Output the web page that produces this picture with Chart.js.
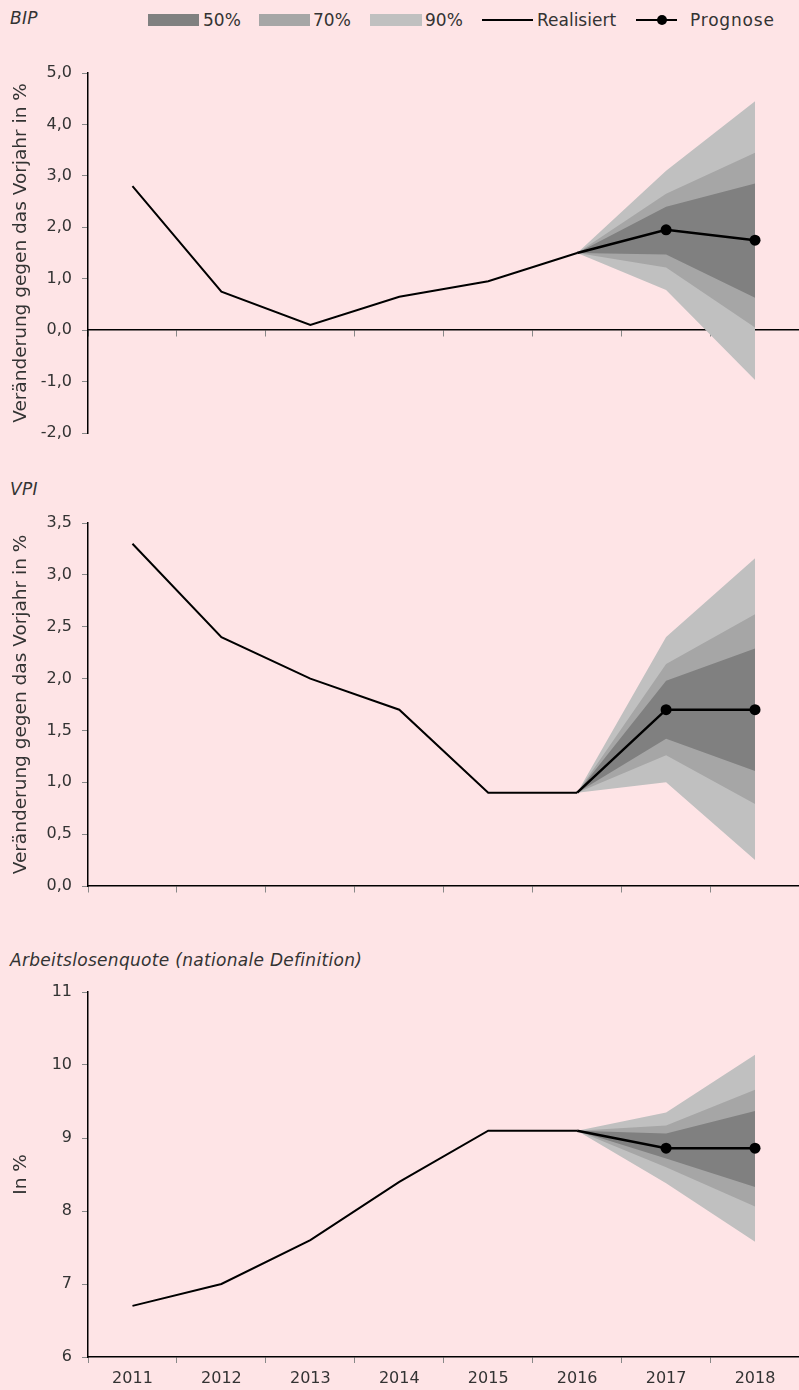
<!DOCTYPE html>
<html>
<head>
<meta charset="utf-8">
<script src="https://cdn.jsdelivr.net/npm/chart.js@4.4.1/dist/chart.umd.min.js"></script>
<style>
  html, body { margin: 0; padding: 0; background: #fee4e6; }
  body { width: 799px; height: 1390px; position: relative; overflow: hidden;
         font-family: 'DejaVu Sans', sans-serif; color: #333; }
  .panel { position: absolute; left: 0; width: 805px; }
  .title { position: absolute; left: 10px; font-style: italic; font-size: 17px; letter-spacing: 0.3px; }
  .lg { position: absolute; font-size: 17px; line-height: 20px; top: 10px; }
  .box { position: absolute; top: 14px; height: 12px; }
  .ln { position: absolute; top: 19px; height: 2px; background: #000; }
  .dot { position: absolute; top: 15px; width: 10px; height: 10px; border-radius: 50%; background: #000; }
</style>
</head>
<body>

<div class="title" style="top:8px">BIP</div>
<div class="title" style="top:479px">VPI</div>
<div class="title" style="top:950px">Arbeitslosenquote (nationale Definition)</div>

<div class="box" style="left:148px;width:51px;background:#808080"></div>
<div class="lg" style="left:203px">50%</div>
<div class="box" style="left:259px;width:51px;background:#a6a6a6"></div>
<div class="lg" style="left:313px">70%</div>
<div class="box" style="left:370px;width:52px;background:#c0c0c0"></div>
<div class="lg" style="left:425px">90%</div>
<div class="ln" style="left:482px;width:51px"></div>
<div class="lg" style="left:537px">Realisiert</div>
<div class="ln" style="left:636px;width:41px"></div>
<div class="dot" style="left:657px"></div>
<div class="lg" style="left:690px;letter-spacing:0.8px">Prognose</div>

<div class="panel" style="top:40px;height:420px"><canvas id="c1"></canvas></div>
<div class="panel" style="top:500px;height:410px"><canvas id="c2"></canvas></div>
<div class="panel" style="top:970px;height:420px"><canvas id="c3"></canvas></div>

<script>
const years = ['2011', '2012', '2013', '2014', '2015', '2016', '2017', '2018'];

// BIP
const bipReal = [2.8, 0.75, 0.1, 0.65, 0.95, 1.5, null, null];
const bipProg = [null, null, null, null, null, 1.5, 1.95, 1.75];
const bipHi90 = [null, null, null, null, null, 1.5, 3.1, 4.45];
const bipHi70 = [null, null, null, null, null, 1.5, 2.65, 3.45];
const bipHi50 = [null, null, null, null, null, 1.5, 2.4, 2.85];
const bipLo50 = [null, null, null, null, null, 1.5, 1.47, 0.63];
const bipLo70 = [null, null, null, null, null, 1.5, 1.22, 0.05];
const bipLo90 = [null, null, null, null, null, 1.5, 0.78, -0.97];

// VPI
const vpiReal = [3.3, 2.4, 2.0, 1.7, 0.9, 0.9, null, null];
const vpiProg = [null, null, null, null, null, 0.9, 1.7, 1.7];
const vpiHi90 = [null, null, null, null, null, 0.9, 2.4, 3.16];
const vpiHi70 = [null, null, null, null, null, 0.9, 2.14, 2.62];
const vpiHi50 = [null, null, null, null, null, 0.9, 1.98, 2.29];
const vpiLo50 = [null, null, null, null, null, 0.9, 1.42, 1.11];
const vpiLo70 = [null, null, null, null, null, 0.9, 1.26, 0.79];
const vpiLo90 = [null, null, null, null, null, 0.9, 1.0, 0.25];

// Arbeitslosenquote
const alqReal = [6.7, 7.0, 7.6, 8.4, 9.1, 9.1, null, null];
const alqProg = [null, null, null, null, null, 9.1, 8.86, 8.86];
const alqHi90 = [null, null, null, null, null, 9.1, 9.35, 10.14];
const alqHi70 = [null, null, null, null, null, 9.1, 9.17, 9.66];
const alqHi50 = [null, null, null, null, null, 9.1, 9.06, 9.37];
const alqLo50 = [null, null, null, null, null, 9.1, 8.72, 8.33];
const alqLo70 = [null, null, null, null, null, 9.1, 8.6, 8.06];
const alqLo90 = [null, null, null, null, null, 9.1, 8.38, 7.58];

const FONT = "'DejaVu Sans', sans-serif";
const C90 = '#c0c0c0', C70 = '#a6a6a6', C50 = '#808080';

function band(data, color, fill, order) {
  return {
    data: data, borderWidth: 0, pointRadius: 0, fill: fill,
    backgroundColor: color, borderColor: color, order: order
  };
}

function panel(id, real, prog, bands, y, pad, showX, yTitle) {
  const ptR = prog.map((v, i) => (i >= 6 ? 5.5 : 0));
  return new Chart(document.getElementById(id), {
    type: 'line',
    data: {
      labels: years,
      datasets: [
        band(bands[0], C90, 5, 30),
        band(bands[1], C70, 4, 20),
        band(bands[2], C50, 3, 10),
        band(bands[3], C50, false, 10),
        band(bands[4], C70, false, 20),
        band(bands[5], C90, false, 30),
        { data: real, borderColor: '#000', borderWidth: 2, pointRadius: 0, fill: false, order: 0 },
        { data: prog, borderColor: '#000', borderWidth: 2.5, pointRadius: ptR,
          pointBackgroundColor: '#000', pointBorderWidth: 0, fill: false, order: 0 }
      ]
    },
    options: {
      responsive: true,
      maintainAspectRatio: false,
      animation: false,
      layout: { padding: { top: pad[0], bottom: pad[1], left: 0, right: 0 } },
      plugins: { legend: { display: false }, tooltip: { enabled: false } },
      scales: {
        x: {
          position: showX ? 'bottom' : { y: y.min < 0 ? 0 : y.min },
          offset: true,
          grid: { offset: true, drawOnChartArea: false, tickLength: 6, color: '#888' },
          border: { color: '#000', width: 1.5 },
          ticks: {
            display: showX, padding: 6, maxRotation: 0, autoSkip: false,
            font: { size: 16, family: FONT }, color: '#333'
          },
          afterFit: (s) => { if (showX) s.height = 33; }
        },
        y: {
          min: y.min, max: y.max,
          grid: { drawOnChartArea: false, tickLength: 6, color: '#888' },
          border: { color: '#000', width: 1.5 },
          ticks: {
            stepSize: y.step, padding: 10,
            font: { size: 16, family: FONT }, color: '#333',
            callback: (v) => y.dec ? v.toFixed(1).replace('.', ',') : String(v)
          },
          title: {
            display: true, text: yTitle, color: '#333',
            font: { size: 18.5, family: FONT }, padding: { top: 10, bottom: 0 }
          },
          afterFit: (s) => { s.width = 88; }
        }
      }
    }
  });
}

panel('c1', bipReal, bipProg, [bipHi90, bipHi70, bipHi50, bipLo50, bipLo70, bipLo90],
  { min: -2, max: 5, step: 1, dec: true }, [33, 27], false, 'Veränderung gegen das Vorjahr in %');
panel('c2', vpiReal, vpiProg, [vpiHi90, vpiHi70, vpiHi50, vpiLo50, vpiLo70, vpiLo90],
  { min: 0, max: 3.5, step: 0.5, dec: true }, [23, 24], false, 'Veränderung gegen das Vorjahr in %');
panel('c3', alqReal, alqProg, [alqHi90, alqHi70, alqHi50, alqLo50, alqLo70, alqLo90],
  { min: 6, max: 11, step: 1, dec: false }, [22, 0], true, 'In %');
</script>
</body>
</html>
